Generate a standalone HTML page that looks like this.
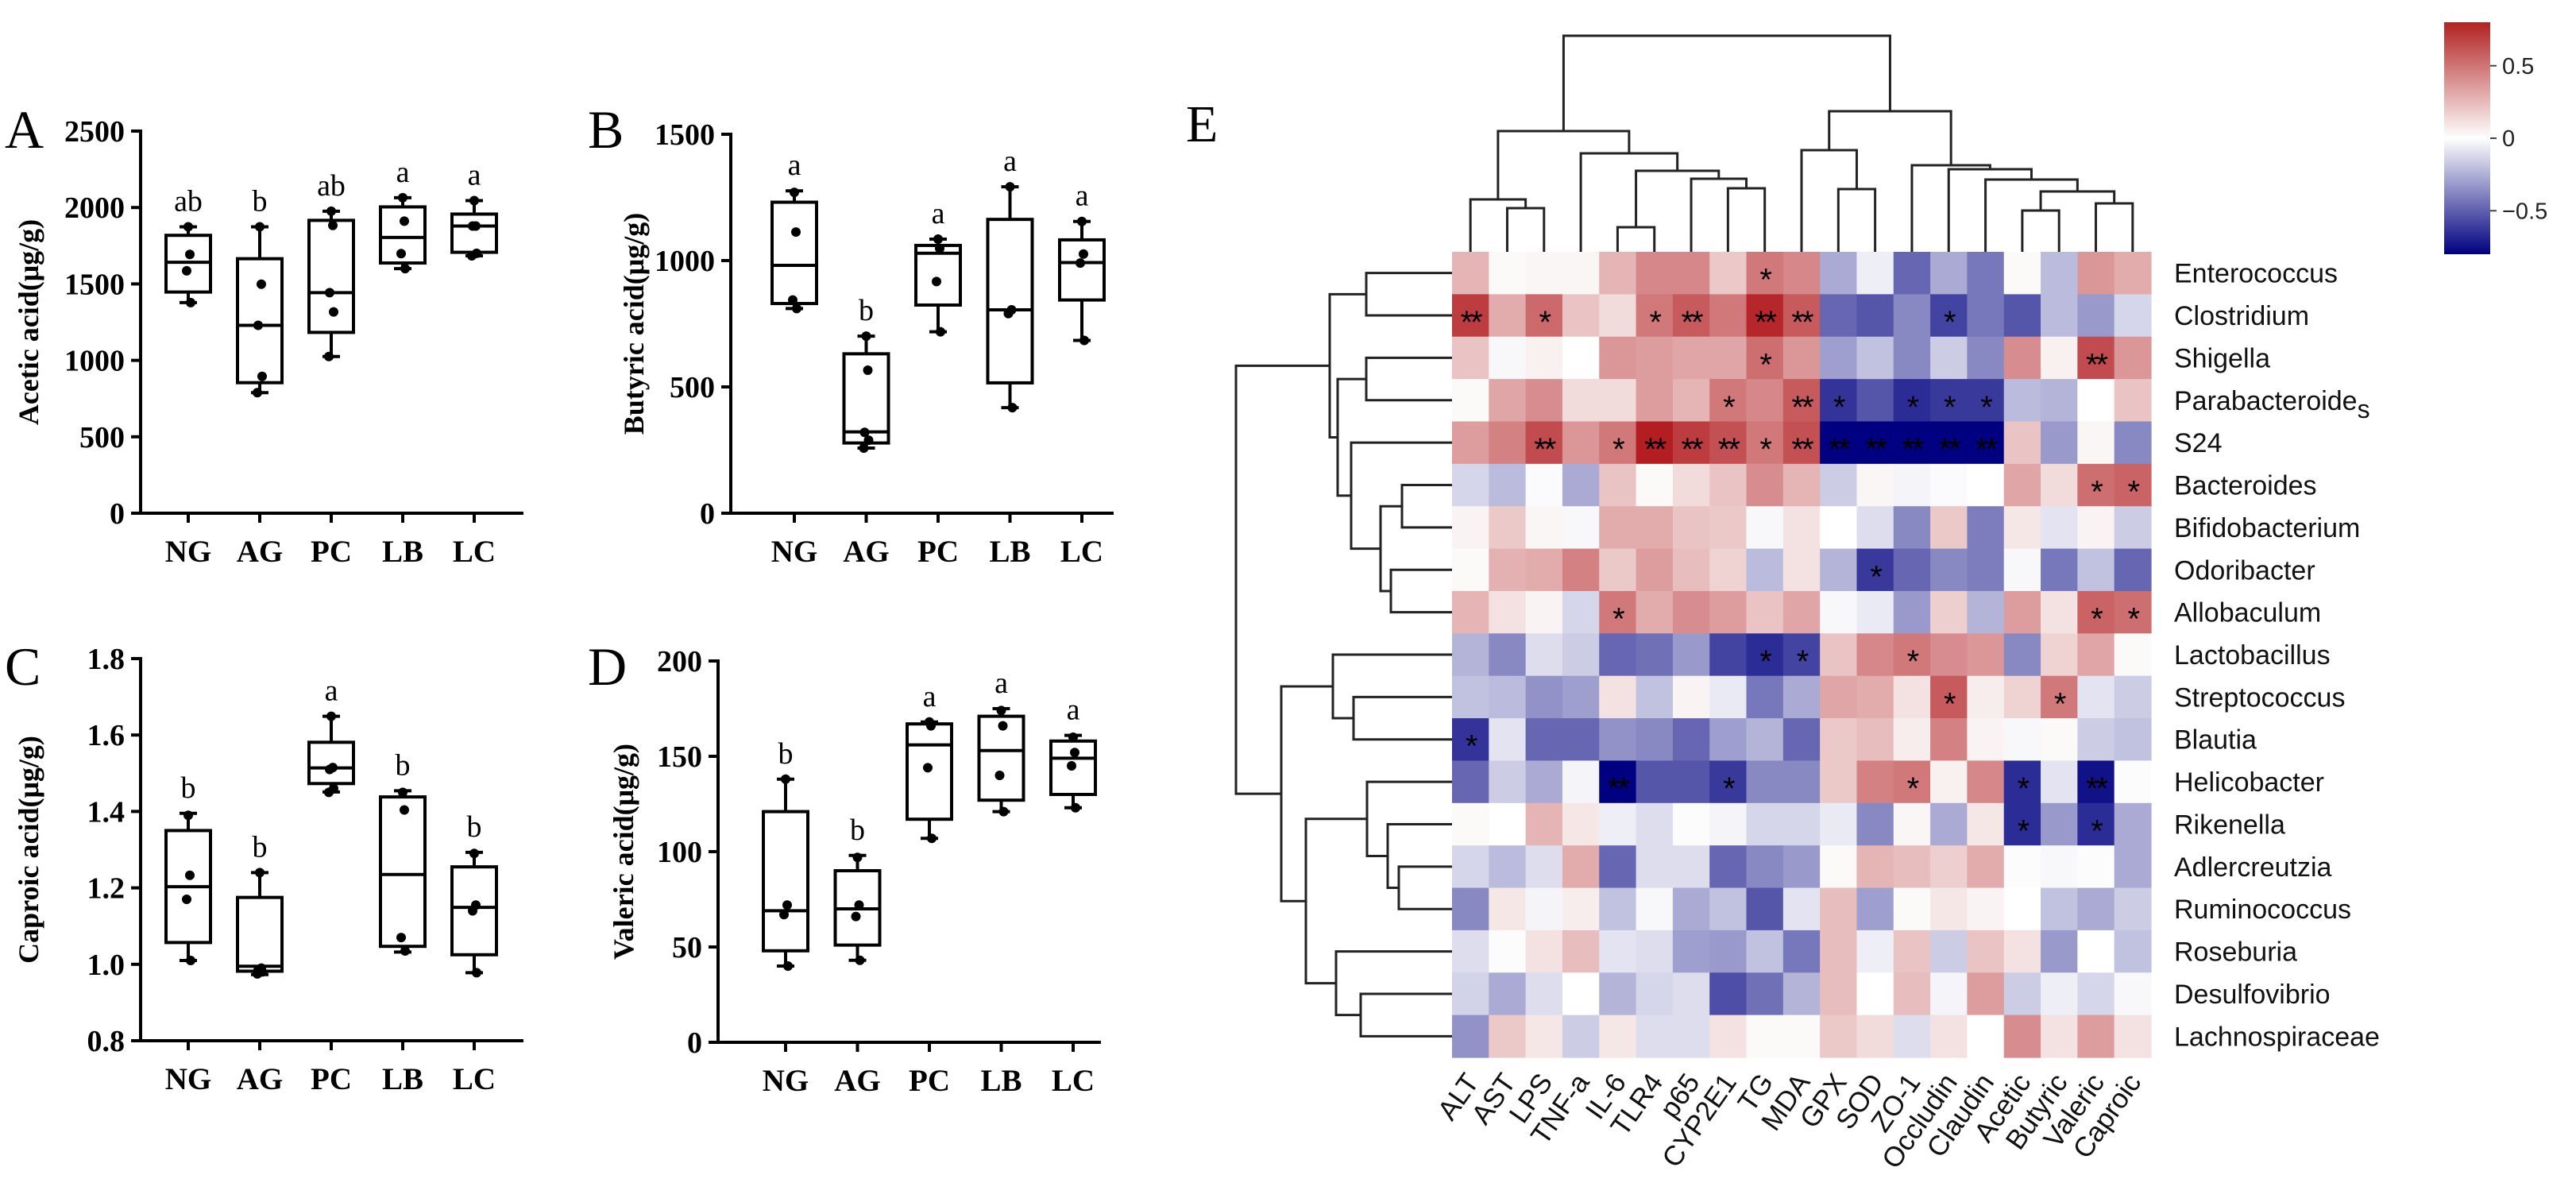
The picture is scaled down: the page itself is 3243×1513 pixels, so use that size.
<!DOCTYPE html>
<html><head><meta charset="utf-8"><style>
html,body{margin:0;padding:0;background:#fff;}
svg{display:block;}
</style></head><body>
<svg id="fig" width="3243" height="1513" viewBox="0 0 3243 1513" xmlns="http://www.w3.org/2000/svg">
<g id="boxes"></g>
<g id="heat"></g>
</svg>
<script>
const groups = ["NG","AG","PC","LB","LC"];
// [min,q1,median,q3,max] per group
const acetic = [[1378,1447,1642,1818,1874],[789,854,1229,1665,1874],[1025,1183,1443,1916,1976],[1600,1637,1804,2004,2064],[1684,1707,1879,1957,2045]];
const aceticPts = [[1874,1693,1586,1378],[1874,1498,1229,895,789],[1976,1883,1443,1317,1025],[2064,1911,1698,1600],[2045,1879,1879,1700,1684]];
const aceticSig = ["ab","b","ab","a","a"];
const butyric = [[810,830,981,1231,1276],[258,278,322,631,701],[718,824,1029,1060,1085],[418,516,805,1163,1292],[684,844,992,1082,1155]];
const butyricPts = [[1270,1113,844,810],[701,566,320,289,258],[1085,1048,917,718],[1292,805,790,418],[1155,1026,990,684]];
const butyricSig = ["a","b","a","a","a"];
const caproic = [[1.010,1.057,1.203,1.350,1.395],[0.973,0.982,0.995,1.175,1.240],[1.451,1.473,1.514,1.581,1.649],[1.032,1.047,1.235,1.438,1.454],[0.978,1.025,1.149,1.255,1.293]];
const caproicPts = [[1.39,1.233,1.170,1.01],[1.24,0.99,0.985,0.98,0.975],[1.649,1.515,1.51,1.46,1.45],[1.45,1.404,1.07,1.035],[1.29,1.155,1.14,0.978]];
const caproicSig = ["b","b","a","b","b"];
const valeric = [[40,48,69,121,138],[43,51,70,90,98],[107,117,156,167,168],[121,127,153,171,175],[123,130,149,158,161]];
const valericPts = [[138,72,67,40],[97,72,66,43],[168,166,144,107],[174,166,140,121],[160,152,145,123]];
const valericSig = ["b","b","a","a","a"];
const acTicks = [0,500,1000,1500,2000,2500];
const buTicks = [0,500,1000,1500];
const caTicks = [0.8,1.0,1.2,1.4,1.6,1.8];
const vaTicks = [0,50,100,150,200];

const NS="http://www.w3.org/2000/svg";
function mk(tag, attrs, parent, txt){const e=document.createElementNS(NS,tag);for(const k in attrs)e.setAttribute(k,attrs[k]);if(txt!==undefined)e.textContent=txt;parent.appendChild(e);return e;}

function panel(cfg){
  const root=document.getElementById('boxes');
  const g=mk('g',{},root);
  
  
  const y=v=>cfg.y0+(v-cfg.vmin)/(cfg.vmax-cfg.vmin)*(cfg.y1-cfg.y0);
  const x=i=>cfg.xf+cfg.dx*i;
  const serif='"Liberation Serif", serif';
  const L=mk('text',{x:cfg.lx,y:cfg.ly,'font-family':serif,'font-size':68},g,cfg.letter);
  
  
  const ya=mk('line',{x1:cfg.ax,y1:y(cfg.vmax)-2,x2:cfg.ax,y2:cfg.y0+2,stroke:'#000','stroke-width':4},g);
  
  
  const xa=mk('line',{x1:cfg.ax-2,y1:cfg.y0,x2:cfg.ax+482,y2:cfg.y0,stroke:'#000','stroke-width':4},g);
  
  
  cfg.ticks.forEach(t=>{
    mk('line',{x1:cfg.ax-12,y1:y(t),x2:cfg.ax,y2:y(t),stroke:'#000','stroke-width':4},g);
    const tl=mk('text',{x:cfg.ax-20,y:y(t)+13,'text-anchor':'end','font-family':serif,'font-size':38,'font-weight':'bold'},g,cfg.fmt(t));
    
    
  });
  const tt=mk('text',{transform:`translate(${cfg.tx},${(cfg.y0+y(cfg.vmax))/2}) rotate(-90)`,'text-anchor':'middle','font-family':serif,'font-size':36,'font-weight':'bold'},g,cfg.title);
  
  
  groups.forEach((gn,i)=>{
    const cx=x(i), d=cfg.data[i];
    mk('line',{x1:cx,y1:cfg.y0,x2:cx,y2:cfg.y0+12,stroke:'#000','stroke-width':4},g);
    const cl=mk('text',{x:cx,y:cfg.y0+61,'text-anchor':'middle','font-family':serif,'font-size':39,'font-weight':'bold'},g,gn);
    
    
    const bg=mk('g',{},g);
    
    
    const st={stroke:'#000','stroke-width':4,fill:'none'};
    mk('line',Object.assign({x1:cx,y1:y(d[4]),x2:cx,y2:y(d[3])},st),bg);
    mk('line',Object.assign({x1:cx,y1:y(d[0]),x2:cx,y2:y(d[1])},st),bg);
    mk('line',Object.assign({x1:cx-11,y1:y(d[4]),x2:cx+11,y2:y(d[4])},st),bg);
    mk('line',Object.assign({x1:cx-11,y1:y(d[0]),x2:cx+11,y2:y(d[0])},st),bg);
    mk('rect',Object.assign({x:cx-28,y:y(d[3]),width:56,height:y(d[1])-y(d[3])},st),bg);
    mk('line',Object.assign({x1:cx-28,y1:y(d[2]),x2:cx+28,y2:y(d[2])},st),bg);
    cfg.pts[i].forEach((p,k)=>{
      const off=[0,2,-2,3,-3][k%5];
      const c=mk('circle',{cx:cx+off,cy:y(p),r:6,fill:'#000'},bg);
      
      
    });
    const s=mk('text',{x:cx,y:y(d[4])-20,'text-anchor':'middle','font-family':serif,'font-size':38},g,cfg.sig[i]);
    
    
  });
}
panel({name:'panel-a-acetic',letter:'A',lx:6,ly:186,ax:177,xf:237,dx:90,y0:646,y1:165,vmin:0,vmax:2500,ticks:acTicks,fmt:t=>String(t),title:'Acetic acid(μg/g)',tx:48,data:acetic,pts:aceticPts,sig:aceticSig});
panel({name:'panel-b-butyric',letter:'B',lx:740,ly:186,ax:920,xf:1000,dx:90.5,y0:646,y1:169,vmin:0,vmax:1500,ticks:buTicks,fmt:t=>String(t),title:'Butyric acid(μg/g)',tx:810,data:butyric,pts:butyricPts,sig:butyricSig});
panel({name:'panel-c-caproic',letter:'C',lx:6,ly:862,ax:177,xf:237,dx:90,y0:1310,y1:829,vmin:0.8,vmax:1.8,ticks:caTicks,fmt:t=>t.toFixed(1),title:'Caproic acid(μg/g)',tx:48,data:caproic,pts:caproicPts,sig:caproicSig});
panel({name:'panel-d-valeric',letter:'D',lx:740,ly:862,ax:904,xf:989,dx:90.5,y0:1312,y1:832,vmin:0,vmax:200,ticks:vaTicks,fmt:t=>String(t),title:'Valeric acid(μg/g)',tx:797,data:valeric,pts:valericPts,sig:valericSig});
</script>
<script>
const hmCols = ["ALT","AST","LPS","TNF-a","IL-6","TLR4","p65","CYP2E1","TG","MDA","GPX","SOD","ZO-1","Occludin","Claudin","Acetic","Butyric","Valeric","Caproic"];
const hmRows = ["Enterococcus","Clostridium","Shigella","Parabacteroide","S24","Bacteroides","Bifidobacterium","Odoribacter","Allobaculum","Lactobacillus","Streptococcus","Blautia","Helicobacter","Rikenella","Adlercreutzia","Ruminococcus","Roseburia","Desulfovibrio","Lachnospiraceae"];
const hmVals = [
[.25,.02,.03,.03,.25,.4,.4,.18,.45,.4,-.25,-.05,-.45,-.25,-.4,.02,-.2,.35,.28],
[.65,.28,.5,.2,.12,.45,.55,.45,.72,.55,-.45,-.5,-.35,-.55,-.4,-.5,-.2,-.3,-.12],
[.2,-.02,.05,0,.35,.33,.3,.3,.48,.35,-.28,-.18,-.35,-.15,-.35,.38,.05,.6,.35],
[.02,.3,.38,.12,.12,.33,.25,.45,.4,.55,-.6,-.5,-.62,-.58,-.58,-.2,-.22,0,.2],
[.33,.42,.6,.35,.45,.75,.65,.58,.45,.58,-.8,-.8,-.85,-.78,-.88,.2,-.3,.03,-.35],
[-.12,-.2,-.01,-.25,.2,.02,.12,.2,.38,.25,-.15,.03,-.03,-.01,0,.3,.12,.48,.52],
[.04,.18,.03,-.02,.28,.28,.2,.18,-.02,.1,0,-.1,-.35,.18,-.38,.08,-.08,.04,-.15],
[.02,.26,.28,.42,.18,.33,.22,.15,-.2,.1,-.22,-.58,-.45,-.35,-.38,-.02,-.4,-.18,-.45],
[.25,.1,.04,-.12,.45,.28,.38,.33,.2,.3,-.02,-.06,-.3,.16,-.22,.33,.1,.52,.48],
[-.22,-.35,-.1,-.15,-.45,-.42,-.3,-.55,-.62,-.55,.2,.4,.45,.38,.35,-.35,.15,.3,.02],
[-.18,-.2,-.32,-.28,.1,-.18,.04,-.06,-.4,-.25,.3,.28,.1,.55,.06,.15,.45,-.08,-.15],
[-.6,-.08,-.45,-.45,-.32,-.35,-.45,-.28,-.22,-.45,.18,.22,.06,.42,.04,-.02,.02,-.15,-.18],
[-.45,-.15,-.25,-.03,-.82,-.5,-.5,-.58,-.35,-.35,.18,.42,.45,.05,.4,-.62,-.08,-.7,.01],
[.02,0,.25,.08,-.05,-.1,.01,-.03,-.12,-.12,-.06,-.35,.03,-.25,.08,-.62,-.3,-.62,-.25],
[-.12,-.2,-.1,.28,-.45,-.1,-.1,-.45,-.35,-.3,.02,.25,.22,.16,.28,.01,-.02,.01,-.25],
[-.35,.08,-.03,.06,-.18,-.02,-.25,-.18,-.5,-.08,.22,-.28,.02,.08,.04,0,-.18,-.25,-.15],
[-.1,.01,.1,.22,-.08,-.1,-.28,-.3,-.18,-.4,.22,-.05,.2,-.15,.2,.1,-.3,0,-.18],
[-.13,-.25,-.1,0,-.22,-.12,-.1,-.52,-.42,-.22,.22,0,.22,-.03,.33,-.15,-.05,-.12,-.02],
[-.32,.18,.08,-.15,.08,-.1,-.1,.1,.02,.02,.18,.12,-.1,.1,0,.38,.1,.33,.1]];
const hmSig = [
"........1..........",
"2.1..12.22...1.....",
"........1........2.",
".......1.21.111....",
"..2.12221222222....",
".................11",
"...................",
"...........1.......",
"....1............11",
"........11..1......",
".............1..1..",
"1..................",
"....2..1....1..1.2.",
"...............1.1.",
"...................",
"...................",
"...................",
"...................",
"..................."];
// dendrogram merges: [left,right,height]
const colTree = [[[0,[1,2,262],251],[3,[[4,5,286],[6,[7,8,237],225],215],193],165],[[9,[10,11,238],189],[12,[13,[14,[[15,16,265],[17,18,256],241],226],213],208],140],45];
const rowTree = [[[0,1,1720],[[2,3,1720],[4,[[5,6,1765],[7,8,1751],1738],1701],1684],1674],[[9,[10,11,1704],1678],[[12,[13,[14,15,1761],1747],1721],[16,[17,18,1713],1682],1644],1613],1556];
const cbTicks = [0.5,0,-0.5];

(function(){
  const NS="http://www.w3.org/2000/svg";
  function mk(tag, attrs, parent, txt){const e=document.createElementNS(NS,tag);for(const k in attrs)e.setAttribute(k,attrs[k]);if(txt!==undefined)e.textContent=txt;parent.appendChild(e);return e;}
  const root=document.getElementById('heat');
  const X0=1828,X1=2708,Y0=317,Y1=1331;
  const cw=(X1-X0)/hmCols.length, rh=(Y1-Y0)/hmRows.length;
  const cx=i=>X0+cw*(i+0.5), cy=j=>Y0+rh*(j+0.5);
  function color(v){
    const t=Math.max(-1,Math.min(1,v/0.75));
    let r,g,b;
    if(t>=0){r=255+(178-255)*t;g=255+(30-255)*t;b=255+(34-255)*t;}
    else{const s=-t;r=255*(1-s);g=255*(1-s);b=255+(128-255)*s;}
    return `rgb(${r|0},${g|0},${b|0})`;
  }
  const sans='"Liberation Sans", sans-serif';
  const E=mk('text',{x:1493,y:178,'font-family':'"Liberation Serif", serif','font-size':66},root,'E');
  
  
  const cells=mk('g',{},root);
  
  
  hmVals.forEach((row,j)=>row.forEach((v,i)=>{
    const r=mk('rect',{x:X0+cw*i,y:Y0+rh*j,width:cw+0.6,height:rh+0.6,fill:color(v)},cells);
    
    
    const s=hmSig[j][i];
    if(s!=='.'){
      const t=mk('text',{x:cx(i),y:cy(j)+22,'text-anchor':'middle','font-family':sans,'font-size':40,'letter-spacing':-3,fill:'#000'},cells,s==='2'?'**':'*');
      
      
    }
  }));
  hmRows.forEach((n,j)=>{
    const t=mk('text',{x:2737,y:cy(j)+12,'font-family':sans,'font-size':34,fill:'#111'},root);
    
    
    t.textContent=n;
    if(n==='Parabacteroide'){mk('tspan',{dy:10,'font-size':32},t,'s');}
  });
  hmCols.forEach((n,i)=>{
    const t=mk('text',{transform:`translate(${cx(i)+12},${1362}) rotate(-55)`,'text-anchor':'end','font-family':sans,'font-size':35,fill:'#111'},root,n);
    
    
  });
  const dg=mk('g',{stroke:'#222','stroke-width':3,fill:'none'},root);
  
  
  function colNode(n){
    if(typeof n==='number') return {x:cx(n),y:Y0};
    const a=colNode(n[0]), b=colNode(n[1]), h=n[2];
    mk('polyline',{points:`${a.x},${a.y} ${a.x},${h} ${b.x},${h} ${b.x},${b.y}`},dg);
    return {x:(a.x+b.x)/2,y:h};
  }
  colNode(colTree);
  const rg=mk('g',{stroke:'#222','stroke-width':3,fill:'none'},root);
  
  
  function rowNode(n){
    if(typeof n==='number') return {x:X0,y:cy(n)};
    const a=rowNode(n[0]), b=rowNode(n[1]), h=n[2];
    mk('polyline',{points:`${a.x},${a.y} ${h},${a.y} ${h},${b.y} ${b.x},${b.y}`},rg);
    return {x:h,y:(a.y+b.y)/2};
  }
  rowNode(rowTree);
  const cb=mk('g',{},root);
  
  
  const defs=mk('defs',{},cb);
  const lg=mk('linearGradient',{id:'cbg',x1:0,y1:0,x2:0,y2:1},defs);
  mk('stop',{offset:'0','stop-color':'rgb(178,34,34)'},lg);
  mk('stop',{offset:'0.5','stop-color':'#ffffff'},lg);
  mk('stop',{offset:'1','stop-color':'rgb(0,0,128)'},lg);
  const CB0=28,CB1=320;
  mk('rect',{x:3077,y:CB0,width:58,height:CB1-CB0,fill:'url(#cbg)'},cb);
  const cby=v=>(CB0+CB1)/2 - v/0.8*(CB1-CB0)/2;
  cbTicks.forEach(v=>{
    mk('line',{x1:3135,y1:cby(v),x2:3143,y2:cby(v),stroke:'#444','stroke-width':2},cb);
    const t=mk('text',{x:3150,y:cby(v)+10,'font-family':sans,'font-size':29,fill:'#222'},cb,v<0?'\u22120.5':String(v));
    
    
  });
})();
</script>
</body></html>
